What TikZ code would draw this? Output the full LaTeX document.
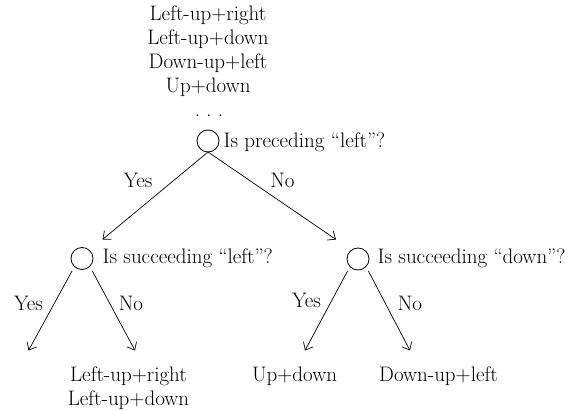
\documentclass[tikz,border=0pt]{standalone}
\usepackage{fontspec}
\setmainfont{Latin Modern Roman}
\usetikzlibrary{arrows.meta}

\begin{document}
\begin{tikzpicture}[x=1pt,y=1pt,
  every node/.style={font=\fontsize{21}{24}\selectfont,inner sep=0pt},
  test/.style={circle,draw,line width=0.8pt,minimum size=22pt,inner sep=0pt,outer sep=0pt},
  arr/.style={line width=0.7pt,-{Straight Barb[length=6.5pt,width=11pt,line width=0.7pt]}}]
\useasboundingbox (0,0) rectangle (575,-411);
% moves at the top:
\foreach \m [count=\i] in {Left-up+right,Left-up+down,Down-up+left,Up+down}
  \node[anchor=base] (move\i) at (208,-21-24*\i+24) {\m};
\node[anchor=base] (moredots) at (209,-117) {.\ .\ .};
% questions:
\node[test] (root) at (208,-141) {};
\node[anchor=base west] (rootq) at (223.5,-148) {Is preceding ``left''?};
\node[test] (lq) at (82,-258.5) {};
\node[anchor=base west] (lqtext) at (102.5,-264) {Is succeeding ``left''?};
\node[test] (rq) at (358,-259) {};
\node[anchor=base west] (rqtext) at (377.5,-264) {Is succeeding ``down''?};
% results:
\node[anchor=base] (lres1) at (128.5,-381) {Left-up+right};
\node[anchor=base] (lres2) at (128.5,-405) {Left-up+down};
\node[anchor=base] (rres1) at (294.5,-381) {Up+down};
\node[anchor=base] (rres2) at (438.5,-381) {Down-up+left};
% arrow ends:
\coordinate (rootyes) at (102.5,-239.5);
\coordinate (rootno) at (336,-239.5);
\coordinate (lyes) at (28.5,-350.5);
\coordinate (lno) at (135,-350.5);
\coordinate (ryes) at (305,-350.5);
\coordinate (rno) at (410,-350.5);
% connectors:
\draw[arr] (root.south) -- (rootyes);
\draw[arr] (root.south) -- (rootno);
\draw[arr,shorten <=5pt] (lq.227) -- (lyes);
\draw[arr,shorten <=5pt] (lq.315) -- (lno);
\draw[arr,shorten <=5pt] (rq.223) -- (ryes);
\draw[arr,shorten <=5pt] (rq.317) -- (rno);
% answers:
\node[anchor=base] (rootyeslab) at (138,-188) {Yes};
\node[anchor=base] (rootnolab) at (282.5,-188) {No};
\node[anchor=base] (lyeslab) at (28.5,-310) {Yes};
\node[anchor=base] (lnolab) at (131,-310) {No};
\node[anchor=base] (ryeslab) at (306.5,-307.5) {Yes};
\node[anchor=base] (rnolab) at (410,-310) {No};
\end{tikzpicture}
\end{document}
